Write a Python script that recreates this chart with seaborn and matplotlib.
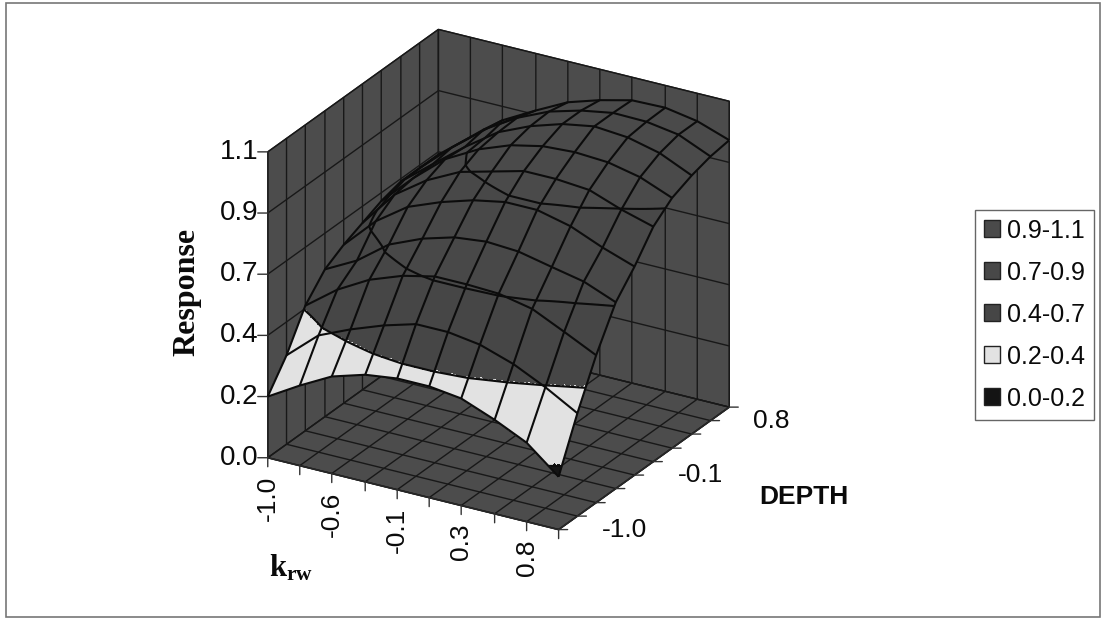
import numpy as np
import matplotlib
matplotlib.use("Agg")
import matplotlib.pyplot as plt
from matplotlib.patches import Patch, Rectangle
from mpl_toolkits.mplot3d import proj3d
import seaborn as sns

krw_values = [-1.0, -0.78, -0.56, -0.33, -0.11, 0.11, 0.33, 0.56, 0.78, 1.0]
depth_values = [-1.0, -0.78, -0.56, -0.33, -0.11, 0.11, 0.33, 0.56, 0.78, 1.0]
krw_labels = ["-1.0", "", "-0.6", "", "-0.1", "", "0.3", "", "0.8", ""]
depth_labels = ["-1.0", "", "", "", "-0.1", "", "", "", "0.8", ""]
z_ticks = [0.0, 0.22, 0.44, 0.66, 0.88, 1.10]
z_labels = ["0.0", "0.2", "0.4", "0.7", "0.9", "1.1"]
response_d0 = [.22, .288, .349, .385, .40, .40, .385, .338, .284, .19]
response_d1 = [.32, .42, .47, .514, .547, .547, .53, .49, .435, .37]
response_d2 = [.45, .536, .60, .644, .67, .67, .665, .64, .586, .53]
response_d3 = [.53, .59, .676, .727, .76, .773, .766, .74, .716, .67]
response_d4 = [.57, .683, .763, .81, .845, .867, .867, .838, .79, .75]
response_d5 = [.60, .73, .81, .87, .90, .93, .93, .92, .878, .845]
response_d6 = [.63, .741, .838, .903, .946, .971, .978, .971, .946, .90]
response_d7 = [.65, .741, .831, .914, .964, 1.0, 1.02, 1.01, .982, .93]
response_d8 = [.65, .752, .845, .917, .968, 1.0, 1.02, 1.018, 1.0, .95]
response_d9 = [.65, .74, .83, .895, .953, .989, 1.017, 1.02, 1.0, .96]
band_labels = ["0.9-1.1", "0.7-0.9", "0.4-0.7", "0.2-0.4", "0.0-0.2"]
band_colors = ["#4a4a4a", "#484848", "#464646", "#e2e2e2", "#141414"]

sns.set_theme(style="white")
plt.rcParams["font.family"] = ["Liberation Sans", "DejaVu Sans"]
plt.rcParams["mathtext.fontset"] = "custom"
plt.rcParams["mathtext.rm"] = "Liberation Serif:bold"
plt.rcParams["mathtext.bf"] = "Liberation Serif:bold"

Z = np.array([response_d0, response_d1, response_d2, response_d3, response_d4,
              response_d5, response_d6, response_d7, response_d8, response_d9])

# Finer mesh only so the colour bands break where a level crosses a cell
sub = 20
ii = np.linspace(0, 9, 9 * sub + 1)
i0 = np.minimum(ii.astype(int), 8)
t = ii - i0
Zf = (Z[i0][:, i0] * (1 - t)[None, :] + Z[i0][:, i0 + 1] * t[None, :]) * (1 - t)[:, None] \
   + (Z[i0 + 1][:, i0] * (1 - t)[None, :] + Z[i0 + 1][:, i0 + 1] * t[None, :]) * t[:, None]
kf = np.interp(ii, np.arange(10), krw_values)
df = np.interp(ii, np.arange(10), depth_values)
Kf, Df = np.meshgrid(kf, df)
K, D = np.meshgrid(krw_values, depth_values)
centre = (Zf[:-1, :-1] + Zf[1:, :-1] + Zf[:-1, 1:] + Zf[1:, 1:]) / 4
band_index = 4 - np.digitize(centre, z_ticks[1:5])
rgba = np.array(band_colors, dtype=object)[band_index]

fig = plt.figure(figsize=(11.01, 6.19), dpi=100, facecolor="white")
S = 600
ax = fig.add_axes([190.4 / 1101, 31.4 / 619, S / 1101, S / 619], projection="3d")
ax.patch.set_alpha(0)
ax.computed_zorder = False
ax.set_proj_type("ortho")
ax.view_init(elev=24.9, azim=-59.6)
ax.set_box_aspect((1, 1, 1), zoom=0.945)
ax.set_xlim(-1, 1, view_margin=0)
ax.set_ylim(-1, 1, view_margin=0)
ax.set_zlim(0, 1.1, view_margin=0)

ax.plot_surface(Kf, Df, Zf, facecolors=rgba, shade=False, linewidth=0,
                edgecolor="none", antialiased=False, rstride=1, cstride=1, zorder=2)
ax.contour(Kf, Df, Zf, levels=z_ticks[1:5], colors="#0c0c0c", linewidths=1.5, zorder=3)
ax.plot_wireframe(K, D, Z, color="#0c0c0c", linewidth=1.5, rstride=1, cstride=1, zorder=4)

ax.set_xticks(krw_values)
ax.set_xticklabels([""] * len(krw_values))
ax.set_yticks(depth_values)
ax.set_yticklabels([""] * len(depth_values))
ax.set_zticks(z_ticks)
ax.set_zticklabels([""] * len(z_ticks))
ax.zaxis.set_ticks_position("lower")

for axis in (ax.xaxis, ax.yaxis, ax.zaxis):
    axis.set_pane_color("#4c4c4c")
    axis.pane.set_edgecolor("#2a2a2a")
    axis._axinfo["grid"].update(color="#181818", linewidth=1.0, linestyle="-")
    axis._axinfo["axisline"]["color"] = "#333333"
    axis._axinfo["tick"].update(inward_factor=0.0, outward_factor=0.0)
ax.grid(True)

M = ax.get_proj()


def mark(x, y, z, label, tick_dx, tick_dy, text_dx, text_dy, **text_kw):
    px, py, _ = proj3d.proj_transform(x, y, z, M)
    ax.annotate("", xy=(px, py), xycoords="data", xytext=(tick_dx, tick_dy), textcoords="offset pixels",
                arrowprops=dict(arrowstyle="-", color="#333333", lw=1.0, shrinkA=0, shrinkB=0),
                annotation_clip=False)
    if label:
        ax.annotate(label, xy=(px, py), xycoords="data", xytext=(text_dx, text_dy), textcoords="offset pixels",
                    annotation_clip=False, color="#0a0a0a", **text_kw)


for v, lab in zip(krw_values, krw_labels):
    mark(v, -1, 0, lab, 0, -9, 0, -18, rotation=90, ha="center", va="top", fontsize=19)
for v, lab in zip(depth_values, depth_labels):
    mark(1, v, 0, lab, 9, 0, 43, 0, ha="left", va="center", fontsize=19)
for v, lab in zip(z_ticks, z_labels):
    mark(-1, -1, v, lab, -10, 0, -9, 0, ha="right", va="center", fontsize=20)

fig.text(187 / 1101, 1 - 292 / 619, "Response", rotation=90, ha="center", va="center",
         family="Liberation Serif", fontweight="bold", fontsize=23, color="#0a0a0a")
fig.text(291 / 1101, 1 - 568 / 619, r"$\mathbf{k_{rw}}$", ha="center", va="center",
         fontsize=22, color="#0a0a0a")
fig.text(804 / 1101, 1 - 497 / 619, "DEPTH", ha="center", va="center",
         fontweight="bold", fontsize=19, color="#0a0a0a")

handles = [Patch(facecolor=c, edgecolor="#222222", label=l) for c, l in zip(band_colors, band_labels)]
leg = fig.legend(handles=handles, loc="center", bbox_to_anchor=(1034.5 / 1101, 1 - 314.5 / 619),
                 frameon=True, fancybox=False, edgecolor="#666666", framealpha=1,
                 fontsize=18, handlelength=0.64, handleheight=0.64, handletextpad=0.28,
                 labelspacing=0.72, borderpad=0.36, borderaxespad=0, labelcolor="#0a0a0a")

fig.add_artist(Rectangle((6 / 1101, 1 - 617 / 619), 1094 / 1101, 614 / 619, transform=fig.transFigure,
                         fill=False, edgecolor="#777777", linewidth=1.2))
fig.savefig("out.png", dpi=100)
